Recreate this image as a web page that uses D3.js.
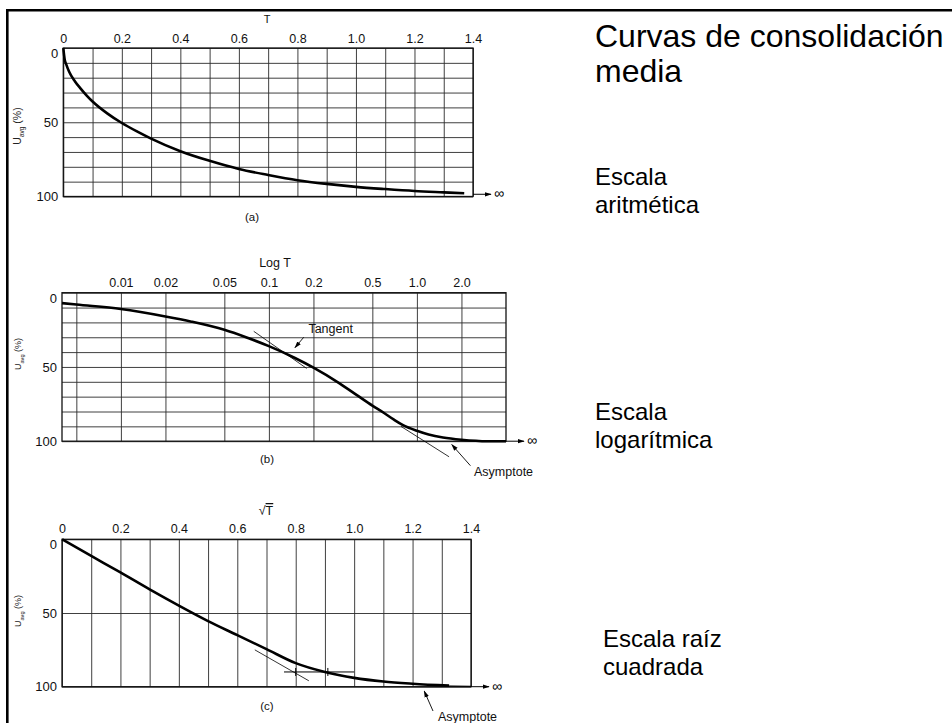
<!DOCTYPE html>
<html>
<head>
<meta charset="utf-8">
<script src="https://cdn.jsdelivr.net/npm/d3@7"></script>
<style>
  body { margin: 0; background: #fff; }
  svg { display: block; font-family: "Liberation Sans", Arial, Helvetica, sans-serif; }
</style>
</head>
<body>
<div id="chart"></div>
<script>
// ---- data ----
// (a) arithmetic scale: T vs U_avg (%)
var arithT = [0, 0.005, 0.01, 0.02, 0.04, 0.06, 0.08, 0.1, 0.15, 0.2, 0.25, 0.3, 0.4, 0.5, 0.6, 0.7, 0.8, 0.9, 1.0, 1.1, 1.2, 1.3, 1.37];
var arithU = [0, 8, 11, 16, 22.5, 27.5, 32, 36, 44, 50.5, 56, 61, 69.5, 76, 81.5, 85.5, 89, 91.5, 93.5, 95, 96.3, 97.2, 97.8];

// (b) log scale: T vs U_avg (%)
var logT = [0.004, 0.005, 0.01, 0.02, 0.03, 0.05, 0.07, 0.1, 0.15, 0.2, 0.3, 0.4, 0.5, 0.6, 0.7, 0.8, 1.0, 1.2, 1.5, 2.0, 3.0, 4.0];
var logU = [7, 8, 11, 16, 19.5, 25, 30, 36, 44, 50.5, 61, 69.5, 76, 81, 85.5, 89, 93, 95.5, 97.5, 99, 100, 100];
var tangentT = [0.079, 0.18];
var tangentU = [26, 51];
var tangentLowT = [0.78, 1.65];
var tangentLowU = [90, 110.5];

// (c) square-root scale: sqrt(T) vs U_avg (%)
var rootT = [0, 0.1, 0.2, 0.3, 0.4, 0.5, 0.6, 0.7, 0.8, 0.9, 1.0, 1.1, 1.2, 1.325];
var rootU = [0, 11.3, 22.5, 34, 45, 55.5, 65, 74.5, 84, 90, 94, 96.5, 98, 99.3];
var rootTangentT = [0.66, 0.845];
var rootTangentU = [75, 96];
var root90T = [0.76, 1.0];
var root90Marks = [0.8, 0.91];

// ---- ticks and grids ----
var linGrid = [0, 0.1, 0.2, 0.3, 0.4, 0.5, 0.6, 0.7, 0.8, 0.9, 1.0, 1.1, 1.2, 1.3, 1.4];
var linLabels = ["0", "", "0.2", "", "0.4", "", "0.6", "", "0.8", "", "1.0", "", "1.2", "", "1.4"];
var logGrid = [0.005, 0.01, 0.02, 0.05, 0.1, 0.2, 0.5, 1, 2];
var logLabels = ["", "0.01", "0.02", "0.05", "0.1", "0.2", "0.5", "1.0", "2.0"];
var uGridFine = [0, 10, 20, 30, 40, 50, 60, 70, 80, 90, 100];
var uGridCoarse = [0, 50, 100];
var uLabels = [0, 50, 100];

var W = 952, H = 723;
var svg = d3.select("#chart").append("svg").attr("width", W).attr("height", H);

svg.append("defs").append("marker")
  .attr("id", "ah").attr("viewBox", "0 -4 10 8").attr("refX", 9).attr("refY", 0)
  .attr("markerWidth", 7).attr("markerHeight", 6).attr("orient", "auto")
  .attr("markerUnits", "userSpaceOnUse")
  .append("path").attr("d", "M0,-3.2L10,0L0,3.2Z").attr("fill", "#000");

// slide frame (left and top rule)
svg.append("path").attr("d", "M7.3,723V10.3H952")
  .attr("fill", "none").attr("stroke", "#000").attr("stroke-width", 2.6);

function drawPanel(o) {
  var g = svg.append("g");
  var x = o.x, y = o.y;
  var x0 = x.range()[0], x1 = x.range()[1], y0 = y.range()[0], y1 = y.range()[1];

  var ax = g.append("g").attr("transform", "translate(0," + y0 + ")")
    .call(d3.axisTop(x).tickValues(o.xGrid).tickSize(-(y1 - y0)).tickPadding(o.xPad)
      .tickFormat(function (d, i) { return o.xLabels[i]; }));
  var ay = g.append("g").attr("transform", "translate(" + x0 + ",0)")
    .call(d3.axisLeft(y).tickValues(o.yGrid).tickSize(-(x1 - x0)).tickPadding(5)
      .tickFormat(function (d) { return uLabels.indexOf(d) >= 0 ? d : ""; }));

  [ax, ay].forEach(function (a) {
    a.select(".domain").remove();
    a.attr("font-size", 12.5).attr("font-family", null);
    a.selectAll("line").attr("stroke", "#2a2a2a").attr("stroke-width", 0.9);
    a.selectAll("text").attr("fill", "#111");
  });
  ay.attr("font-size", 13);
  ay.selectAll(".tick").filter(function (d) { return d === 0; }).select("text").attr("dy", "0.72em");

  g.append("rect").attr("x", x0).attr("y", y0).attr("width", x1 - x0).attr("height", y1 - y0)
    .attr("fill", "none").attr("stroke", "#111").attr("stroke-width", 1.3);

  g.append("path").datum(o.data)
    .attr("d", d3.line().x(function (d) { return x(d[0]); }).y(function (d) { return y(d[1]); }).curve(d3.curveMonotoneX))
    .attr("fill", "none").attr("stroke", "#000").attr("stroke-width", 2.6);

  // arrow to infinity
  var ya = y(o.arrowU);
  g.append("line").attr("x1", x1).attr("x2", x1 + 18).attr("y1", ya).attr("y2", ya)
    .attr("stroke", "#000").attr("stroke-width", 1).attr("marker-end", "url(#ah)");
  g.append("text").attr("x", x1 + 21).attr("y", ya + 4).attr("font-size", 14).text("\u221e");

  // axis title and panel tag
  g.append("text").attr("x", o.titleX).attr("y", o.titleY).attr("text-anchor", "middle")
    .attr("font-size", o.titleSize || 12.5).attr("fill", "#111").text(o.title);
  g.append("text").attr("x", o.tagX).attr("y", o.tagY).attr("text-anchor", "middle")
    .attr("font-size", 11.5).attr("fill", "#111").text(o.tag);

  // rotated U_avg (%) label
  var t = g.append("text")
    .attr("transform", "translate(21," + o.yLabelY + ") rotate(-90)")
    .attr("text-anchor", "middle").attr("font-size", o.yLabelSize).attr("fill", "#222");
  t.append("tspan").text("U");
  t.append("tspan").attr("font-size", o.yLabelSize * 0.62).attr("dy", o.yLabelSize * 0.3).text("avg");
  t.append("tspan").attr("dy", -o.yLabelSize * 0.3).text("\u00a0(%)");

  return g;
}

function thinLine(g, x, y, xs, us, w) {
  g.append("path").datum(d3.zip(xs, us))
    .attr("d", d3.line().x(function (d) { return x(d[0]); }).y(function (d) { return y(d[1]); }))
    .attr("fill", "none").attr("stroke", "#000").attr("stroke-width", w || 0.8);
}

// ---- (a) arithmetic ----
var xa = d3.scaleLinear().domain([0, 1.4]).range([63.3, 473]);
var ya = d3.scaleLinear().domain([0, 100]).range([48, 196.5]);
drawPanel({
  x: xa, y: ya, xGrid: linGrid, xLabels: linLabels, yGrid: uGridFine, xPad: 5,
  data: d3.zip(arithT, arithU), arrowU: 98.5,
  title: "T", titleX: 267, titleY: 22.5, titleSize: 11, tag: "(a)", tagX: 252, tagY: 221,
  yLabelY: 126, yLabelSize: 10.5
});

// ---- (b) logarithmic ----
var xb = d3.scaleLog().domain([0.004, 4]).range([62, 506]);
var yb = d3.scaleLinear().domain([0, 100]).range([292.7, 441.2]);
var gb = drawPanel({
  x: xb, y: yb, xGrid: logGrid, xLabels: logLabels, yGrid: uGridFine, xPad: 5.5,
  data: d3.zip(logT, logU), arrowU: 100,
  title: "Log T", titleX: 275, titleY: 267, tag: "(b)", tagX: 267, tagY: 463,
  yLabelY: 354, yLabelSize: 9
});
thinLine(gb, xb, yb, tangentT, tangentU);
thinLine(gb, xb, yb, tangentLowT, tangentLowU);
gb.append("text").attr("x", xb(0.185)).attr("y", 333).attr("font-size", 12.5).attr("fill", "#111").text("Tangent");
gb.append("line").attr("x1", xb(0.172)).attr("y1", yb(30)).attr("x2", xb(0.15)).attr("y2", yb(37))
  .attr("stroke", "#000").attr("stroke-width", 0.9).attr("marker-end", "url(#ah)");
gb.append("text").attr("x", 474).attr("y", 476).attr("font-size", 12.5).attr("fill", "#111").text("Asymptote");
gb.append("line").attr("x1", xb(2.3)).attr("y1", yb(116.5)).attr("x2", xb(1.72)).attr("y2", yb(102.3))
  .attr("stroke", "#000").attr("stroke-width", 0.9).attr("marker-end", "url(#ah)");

// ---- (c) square root ----
var xc = d3.scaleLinear().domain([0, 1.4]).range([62, 471]);
var yc = d3.scaleLinear().domain([0, 100]).range([539.3, 686.7]);
var gc = drawPanel({
  x: xc, y: yc, xGrid: linGrid, xLabels: linLabels, yGrid: uGridCoarse, xPad: 6,
  data: d3.zip(rootT, rootU), arrowU: 100,
  title: "", titleX: 266, titleY: 515, tag: "(c)", tagX: 267, tagY: 710,
  yLabelY: 611, yLabelSize: 9
});
var rt = gc.append("text").attr("x", 266).attr("y", 515).attr("text-anchor", "middle")
  .attr("font-size", 12.5).attr("fill", "#111");
rt.append("tspan").text("\u221a");
rt.append("tspan").style("text-decoration", "overline").text("T");
thinLine(gc, xc, yc, rootTangentT, rootTangentU);
thinLine(gc, xc, yc, root90T, [90, 90], 1);
root90Marks.forEach(function (m) {
  gc.append("line").attr("x1", xc(m)).attr("x2", xc(m)).attr("y1", yc(90) - 4).attr("y2", yc(90) + 4)
    .attr("stroke", "#000").attr("stroke-width", 1);
});
thinLine(gc, xc, yc, [1.325, 1.4], [99.5, 99.7], 1);
gc.append("text").attr("x", 438).attr("y", 721).attr("font-size", 12.5).attr("fill", "#111").text("Asymptote");
gc.append("line").attr("x1", 433).attr("y1", 711).attr("x2", xc(1.24)).attr("y2", yc(103))
  .attr("stroke", "#000").attr("stroke-width", 0.9).attr("marker-end", "url(#ah)");

// ---- slide text on the right ----
var notes = [
  { text: "Curvas de consolidación", x: 595, y: 47, size: 32 },
  { text: "media", x: 595, y: 82, size: 32 },
  { text: "Escala", x: 595, y: 185, size: 24 },
  { text: "aritmética", x: 595, y: 213, size: 24 },
  { text: "Escala", x: 595, y: 420, size: 24 },
  { text: "logarítmica", x: 595, y: 448, size: 24 },
  { text: "Escala raíz", x: 603, y: 647, size: 24 },
  { text: "cuadrada", x: 603, y: 675, size: 24 }
];
svg.selectAll("text.note").data(notes).enter().append("text")
  .attr("class", "note")
  .attr("x", function (d) { return d.x; })
  .attr("y", function (d) { return d.y; })
  .attr("font-size", function (d) { return d.size; })
  .attr("fill", "#000")
  .text(function (d) { return d.text; });
</script>
</body>
</html>
